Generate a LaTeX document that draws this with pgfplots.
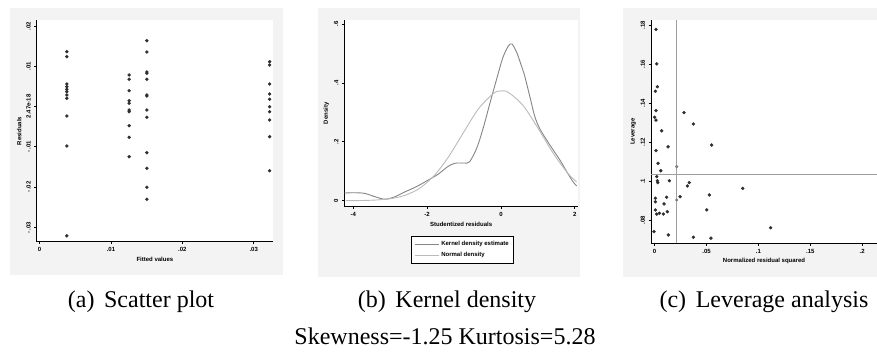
\documentclass[border=0pt]{standalone}
\usepackage{fontspec}
\setmainfont{Liberation Serif}
\newfontfamily\plotfont{Liberation Sans}
\usepackage{pgfplots}
\pgfplotsset{compat=1.18}
\definecolor{dotc}{HTML}{2E2E2E}
\definecolor{kcol}{HTML}{858585}
\definecolor{ncol}{HTML}{BBBBBB}
\definecolor{bgc}{HTML}{F3F3F3}
\pgfplotsset{
  stata/.style={
    scale only axis,
    anchor=south west,
    axis lines=left,
    axis line style={-, black, line width=0.8pt},
    tick align=outside,
    major tick length=2.5pt,
    tick style={black, line width=0.6pt},
    scaled ticks=false,
    ticklabel style={font=\plotfont\bfseries\fontsize{6}{7}\selectfont},
    label style={font=\plotfont\bfseries\fontsize{6}{7}\selectfont},
    yticklabel style={rotate=90, anchor=south},
    xlabel style={yshift=2pt},
    ylabel style={yshift=-2pt},
    axis background/.style={fill=white},
    clip=false,
  },
  dots/.style={only marks, mark=*, mark size=1.5pt, dotc, mark options={draw=dotc, fill=dotc}},
}
\begin{document}
\begin{tikzpicture}[x=1pt,y=1pt]
\useasboundingbox (0,0) rectangle (877,353);
\fill[white] (0,0) rectangle (877,353);
% graph regions
\fill[bgc] (10,78) rectangle (283,345);
\fill[bgc] (318,76) rectangle (580,345);
\fill[bgc] (623,76) rectangle (877,345);

% (a) Scatter plot
\begin{axis}[stata, at={(36.7pt,111.3pt)}, width=236.3pt, height=221.7pt,
  xmin=-0.0004, xmax=0.0327, ymin=-0.03355, ymax=0.02146,
  xtick={0,0.01,0.02,0.03}, xticklabels={0,.01,.02,.03},
  ytick={-0.03,-0.02,-0.01,0,0.01,0.02},
  yticklabels={-\,.03,-\,.02,-\,.01,2.47e-18,.01,.02},
  xlabel={Fitted values}, ylabel={Residuals}]
\addplot[dots] table {
x y
0.00382 0.01360
0.00382 0.01236
0.00382 0.00558
0.00382 0.00491
0.00382 0.00426
0.00382 0.00368
0.00382 0.00285
0.00382 0.00203
0.00382 -0.00236
0.00382 -0.00980
0.00382 -0.03210
0.01255 0.00782
0.01255 0.00675
0.01255 0.00392
0.01255 0.00144
0.01255 0.00079
0.01255 -0.00087
0.01255 -0.00129
0.01255 -0.00476
0.01255 -0.00765
0.01255 -0.01245
0.01503 0.01633
0.01503 0.01352
0.01503 0.00856
0.01503 0.00823
0.01503 0.00675
0.01503 0.00285
0.01503 0.00260
0.01503 -0.00087
0.01503 -0.00268
0.01503 -0.01146
0.01503 -0.01534
0.01503 -0.02005
0.01503 -0.02303
0.03223 0.01112
0.03223 0.01030
0.03223 0.00558
0.03223 0.00310
0.03223 0.00178
0.03223 -0.00005
0.03223 -0.00129
0.03223 -0.00335
0.03223 -0.00749
0.03223 -0.01593
};
\end{axis}

% (b) Kernel density
\begin{axis}[stata, at={(344.3pt,146.3pt)}, width=233.7pt, height=186.7pt,
  xmin=-4.244, xmax=2.089, ymin=-0.0204, ymax=0.6136,
  xtick={-4,-2,0,2}, xticklabels={-4,-2,0,2},
  ytick={0,0.2,0.4,0.6}, yticklabels={0,.2,.4,.6},
  xlabel={Studentized residuals}, ylabel={Density},
  legend style={at={(0.506,-0.158)}, anchor=north, draw=black, line width=0.6pt,
    font=\plotfont\bfseries\fontsize{6}{7}\selectfont, row sep=1pt, inner sep=3pt},
  legend cell align=left,
  legend image code/.code={\draw[#1] (0pt,0pt) -- (24pt,0pt);}]
\addplot[kcol, line width=0.9pt, smooth] table {
x y
-4.24 0.026
-4.00 0.027
-3.70 0.025
-3.40 0.013
-3.15 0.005
-2.90 0.012
-2.60 0.030
-2.30 0.047
-2.00 0.068
-1.70 0.090
-1.45 0.115
-1.25 0.127
-1.00 0.128
-0.85 0.132
-0.65 0.180
-0.47 0.251
-0.30 0.330
-0.10 0.420
0.05 0.485
0.20 0.525
0.30 0.532
0.42 0.506
0.55 0.460
0.65 0.421
0.80 0.345
0.92 0.285
1.05 0.245
1.24 0.206
1.40 0.175
1.60 0.138
1.80 0.095
1.95 0.065
2.05 0.050
};
\addlegendentry{Kernel density estimate}
\addplot[ncol, line width=0.9pt, smooth] table {
x y
-4.20 0.0002
-3.80 0.0006
-3.40 0.0022
-3.00 0.0068
-2.60 0.0182
-2.20 0.0425
-1.80 0.0863
-1.40 0.1526
-1.00 0.2346
-0.60 0.3135
-0.20 0.3643
0.00 0.3727
0.20 0.3681
0.60 0.3235
1.00 0.2472
1.40 0.1643
1.80 0.0949
2.05 0.0640
};
\addlegendentry{Normal density}
\end{axis}

% (c) Leverage analysis
\begin{axis}[stata, at={(651pt,109.7pt)}, width=226pt, height=223.3pt,
  xmin=-0.0035, xmax=0.2143, ymin=0.0683, ymax=0.1828,
  xtick={0,0.05,0.1,0.15,0.2}, xticklabels={0,.05,.1,.15,.2},
  ytick={0.08,0.1,0.12,0.14,0.16,0.18}, yticklabels={.08,.1,.12,.14,.16,.18},
  xlabel={Normalized residual squared}, ylabel={Leverage}]
\addplot[ncol!85!black, line width=0.8pt] coordinates {(0.0213,0.0683) (0.0213,0.1828)};
\addplot[ncol!85!black, line width=0.8pt] coordinates {(-0.0035,0.1035) (0.2143,0.1035)};
\addplot[dots] table {
x y
0.0013 0.1780
0.0020 0.1603
0.0026 0.1486
0.0007 0.1463
0.0013 0.1363
0.0000 0.1329
0.0013 0.1315
0.0068 0.1260
0.0283 0.1353
0.0373 0.1295
0.0550 0.1187
0.0129 0.1178
0.0013 0.1158
0.0033 0.1093
0.0059 0.1055
0.0020 0.1025
0.0026 0.1004
0.0030 0.0994
0.0142 0.1004
0.0334 0.0994
0.0315 0.0977
0.0245 0.0922
0.0527 0.0931
0.0007 0.0914
0.0007 0.0896
0.0116 0.0919
0.0091 0.0885
0.0007 0.0854
0.0045 0.0837
0.0084 0.0833
0.0122 0.0845
0.0020 0.0833
0.0502 0.0854
-0.0006 0.0743
0.0132 0.0726
0.0373 0.0714
0.0543 0.0709
0.0849 0.0965
0.1118 0.0763
};
\addplot[only marks, mark=*, mark size=1.4pt, mark options={draw=gray, fill=gray}] table {
x y
0.0213 0.0905
0.0213 0.1076
};
\end{axis}

% captions
\begin{scope}[every node/.style={font=\fontsize{24}{28}\selectfont, anchor=base, inner sep=0pt}]
\node at (141,45) {(a)\hspace{0.4em}Scatter plot};
\node at (447,45) {(b)\hspace{0.4em}Kernel density};
\node at (764,45) {(c)\hspace{0.4em}Leverage analysis};
\node at (445,9) {Skewness=-1.25 Kurtosis=5.28};
\end{scope}
\end{tikzpicture}
\end{document}
